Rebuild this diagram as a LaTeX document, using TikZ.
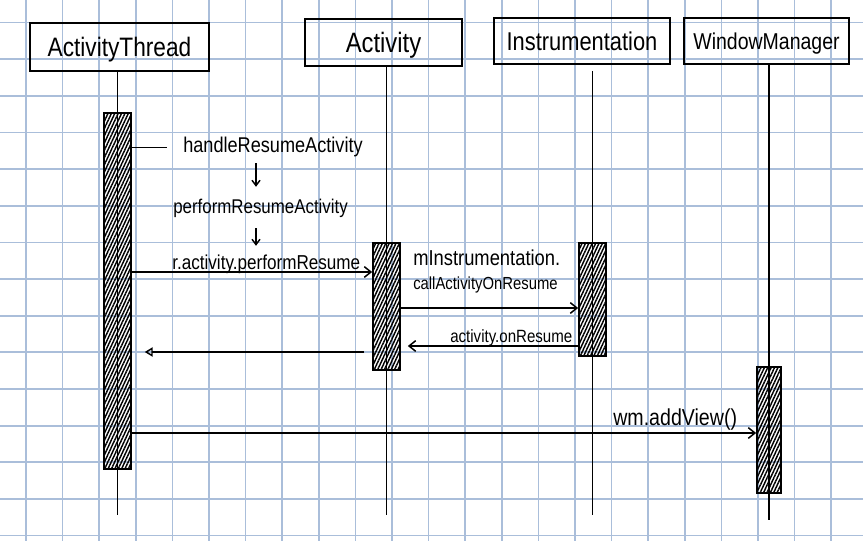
\documentclass[tikz,border=0pt]{standalone}
\usepackage{fontspec}
\newfontfamily\hand[FakeStretch=0.85]{Liberation Sans}
\newcommand\hf[1]{\hand\fontsize{#1}{#1}\selectfont}
\usetikzlibrary{arrows.meta,patterns.meta}
\definecolor{gridblue}{RGB}{170,190,218}
\begin{document}
\begin{tikzpicture}[x=0.75pt,y=-0.75pt,
  gridline/.style={draw=gridblue,line width=1.3pt},
  titlebox/.style={draw,line width=1.5pt,inner sep=0pt,text depth=0pt},
  actbox/.style={draw,line width=1.3pt,inner sep=0pt,minimum width=20.25pt,
    pattern={Lines[angle=65,distance=2.3pt,line width=1.1pt]},pattern color=black},
  life/.style={line width=1.4pt},
  lbl/.style={inner sep=0pt,anchor=base west},
  msg/.style={line width=1.1pt,-{Straight Barb[length=5pt,width=8pt]}},
  downarrow/.style={line width=1.1pt,-{Straight Barb[length=4pt,width=6pt]}},
  retmsg/.style={line width=1.1pt,-{Triangle[open,length=6pt,width=7pt,line width=1.1pt]}}
]
\useasboundingbox (0,0) rectangle (863,541);
\fill[white] (0,0) rectangle (863,541);
% graph paper
\foreach \i in {0,...,22} \draw[gridline] ({26+36.6*\i},0) -- ({26+36.6*\i},541);
\foreach \j in {0,...,14} \draw[gridline] (0,{22.5+36.65*\j}) -- (863,{22.5+36.65*\j});

% title boxes
\node[titlebox,minimum width=134.25pt,minimum height=36pt,font=\hf{20}] (AT) at (119.5,47) {ActivityThread};
\node[titlebox,minimum width=117.75pt,minimum height=35.25pt,font=\hf{21}] (AC) at (383.5,42.5) {Activity};
\node[titlebox,minimum width=132pt,minimum height=34.5pt,font=\hf{19.3}] (IN) at (582,41) {Instrumentation};
\node[titlebox,minimum width=123.75pt,minimum height=34.5pt,font=\hf{17.2}] (WM) at (766.5,41) {WindowManager};

% lifeline ends
\coordinate (ATend) at (117.5,515);
\coordinate (ACend) at (386.5,515);
\coordinate (INend) at (592.5,515);
\coordinate (WMend) at (769,520);
\draw[life] (AT.south -| ATend) -- (ATend);
\draw[life] (AC.south -| ACend) -- (ACend);
\draw[life] ([yshift=-4.5pt]IN.south -| INend) -- (INend);
\draw[life] (WM.south -| WMend) -- (WMend);

% activation boxes
\node[actbox,minimum height=267pt] (atA) at (117.5,291) {};
\node[actbox,minimum height=95.25pt] (acA) at (386.5,306.5) {};
\node[actbox,minimum height=84.75pt] (inA) at (592.5,299.5) {};
\node[actbox,minimum width=18pt,minimum height=94.5pt] (wmA) at (769,430) {};

% labels
\node[lbl,font=\hf{16}] (hRA) at (183,153) {handleResumeActivity};
\node[lbl,font=\hf{14.9}] (pRA) at (173,214) {performResumeActivity};
\node[lbl,font=\hf{15.1}] (rap) at (172,270) {r.activity.performResume};
\node[lbl,font=\hf{16.2}] (mIn) at (413,266) {mInstrumentation.};
\node[lbl,font=\hf{13.1}] (cAO) at (413,290) {callActivityOnResume};
\node[lbl,font=\hf{13.3}] (aoR) at (450,343) {activity.onResume};
\node[lbl,font=\hf{17.3}] (wmV) at (613,425) {wm.addView()};

% connectors
\draw[line width=1.1pt,shorten >=12pt] (atA.east |- hRA.west) -- (hRA.west);
\draw[downarrow,shorten <=4pt,shorten >=9.4pt] (hRA.south -| 256,0) -- (pRA.north -| 256,0);
\draw[downarrow,shorten <=7.3pt,shorten >=7pt] (pRA.south -| 256,0) -- (rap.north -| 256,0);
\draw[msg] (atA.east |- 0,272) -- (acA.west |- 0,272);
\draw[msg] (acA.east |- 0,308) -- (inA.west |- 0,308);
\draw[msg,shorten >=5.25pt] (inA.west |- 0,346) -- (acA.east |- 0,346);
\draw[retmsg,shorten <=6pt,shorten >=9.75pt] (acA.west |- 0,352) -- (atA.east |- 0,352);
\draw[msg] (atA.east |- 0,433) -- (wmA.west |- 0,433);
\end{tikzpicture}
\end{document}
